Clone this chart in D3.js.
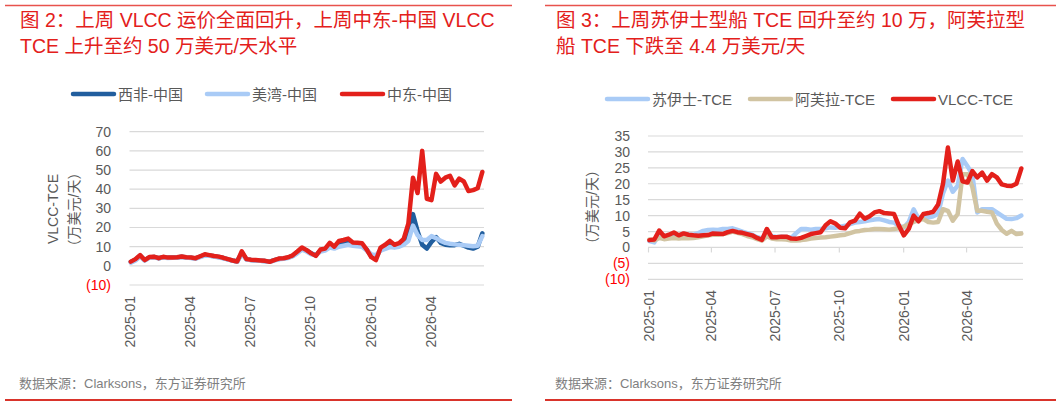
<!DOCTYPE html>
<html><head><meta charset="utf-8">
<script src="https://cdn.jsdelivr.net/npm/d3@7"></script>
<style>
html,body{margin:0;padding:0;background:#fff;}
svg{display:block;}
text{font-family:"Liberation Sans","Noto Sans CJK SC",sans-serif;}
</style></head>
<body>
<svg id="c" width="1061" height="403"></svg>
<script>
// ---------- DATA ----------
const dates = ["2025-01-03","2025-01-10","2025-01-17","2025-01-24","2025-01-31","2025-02-07","2025-02-14","2025-02-21","2025-02-28","2025-03-07","2025-03-14","2025-03-21","2025-03-28","2025-04-04","2025-04-11","2025-04-18","2025-04-25","2025-05-02","2025-05-09","2025-05-16","2025-05-23","2025-05-30","2025-06-06","2025-06-13","2025-06-20","2025-06-27","2025-07-04","2025-07-11","2025-07-18","2025-07-25","2025-08-01","2025-08-08","2025-08-15","2025-08-22","2025-08-29","2025-09-05","2025-09-12","2025-09-19","2025-09-26","2025-10-03","2025-10-10","2025-10-17","2025-10-24","2025-10-31","2025-11-07","2025-11-14","2025-11-21","2025-11-28","2025-12-05","2025-12-12","2025-12-19","2025-12-26","2026-01-02","2026-01-09","2026-01-16","2026-01-23","2026-01-30","2026-02-06","2026-02-13","2026-02-20","2026-02-27","2026-03-06","2026-03-13","2026-03-20","2026-03-27","2026-04-03","2026-04-10","2026-04-17","2026-04-24","2026-05-01","2026-05-08","2026-05-15","2026-05-22","2026-05-29","2026-06-05","2026-06-12","2026-06-19"];

// Chart 1 (万美元/天)
const westAfricaChina = [2.0,3.2,5.3,3.0,4.4,4.6,4.0,4.5,4.2,4.3,4.4,4.7,4.4,4.2,3.9,4.8,5.7,5.4,5.0,4.6,4.1,3.4,2.8,2.3,6.8,3.4,3.1,2.9,2.7,2.5,2.2,3.0,3.6,3.9,4.3,5.2,7.0,9.0,8.0,6.5,5.5,8.0,8.5,10.5,9.5,11.0,11.5,12.0,11.5,11.0,10.8,8.5,5.0,4.5,8.5,9.5,11.0,10.5,11.0,12.0,15.0,27.0,18.0,11.0,9.0,12.5,15.0,12.0,11.0,10.8,10.8,11.5,10.5,9.5,9.0,10.0,17.0];
const usGulfChina = [1.6,2.8,4.8,2.8,4.2,4.4,3.9,4.4,4.1,4.2,4.3,4.6,4.3,4.1,3.8,4.6,5.4,5.2,4.8,4.4,4.0,3.3,2.7,2.2,6.2,3.3,3.0,2.8,2.6,2.4,2.1,2.8,3.4,3.7,4.1,5.0,6.5,8.5,7.5,6.0,5.5,7.5,8.0,9.5,9.0,10.0,10.5,11.0,10.5,10.2,10.0,8.0,6.0,5.5,8.0,8.8,9.8,9.5,10.0,11.0,13.0,21.0,16.0,13.5,13.5,15.5,14.5,13.0,12.0,11.5,11.2,11.0,10.8,10.5,10.2,10.5,15.5];
const meChina = [2.2,3.5,5.6,3.0,4.6,4.8,4.0,4.7,4.3,4.4,4.5,4.9,4.5,4.3,4.0,5.0,6.0,5.6,5.1,4.8,4.2,3.5,2.8,2.3,7.6,3.5,3.2,3.0,2.8,2.6,2.1,3.0,3.8,4.0,4.5,5.5,7.5,9.6,8.2,6.5,5.2,8.5,9.0,12.0,10.0,13.0,13.5,14.2,12.2,12.0,11.8,8.5,4.5,3.0,9.5,11.0,13.0,11.0,11.8,14.0,22.0,46.0,38.0,60.0,35.0,34.3,48.0,44.0,46.0,47.0,42.0,45.5,44.0,39.0,39.5,40.5,49.0];

// Chart 2 (万美元/天)
const suezmaxTce = [2.0,1.6,4.5,3.5,3.8,4.3,3.8,4.2,4.0,4.0,4.5,5.2,5.5,5.6,5.5,5.8,5.8,6.0,5.5,5.0,4.5,4.0,3.2,2.8,4.8,3.5,3.3,3.4,3.3,3.0,4.5,5.8,5.8,5.6,5.8,5.8,6.0,6.3,6.2,6.5,6.8,7.3,7.8,8.0,8.2,8.5,8.8,8.9,8.5,8.0,7.8,6.8,6.3,8.0,12.0,9.0,9.2,9.4,9.8,10.5,17.0,21.0,17.5,19.4,27.8,25.5,23.0,11.0,12.0,12.0,12.0,11.0,10.0,9.0,8.9,9.2,10.0];
const aframaxTce = [2.5,2.2,3.0,2.6,2.8,3.0,2.8,3.0,2.9,3.0,3.2,3.5,3.8,4.0,4.0,4.2,4.5,5.0,4.6,4.2,3.6,3.2,2.6,2.2,3.5,2.8,2.6,2.6,2.5,2.2,2.2,2.3,2.5,2.8,3.0,3.1,3.2,3.4,3.6,3.8,4.0,4.5,5.0,5.2,5.5,5.6,5.8,5.8,5.7,5.6,5.8,6.0,6.5,7.3,8.0,8.6,8.9,8.0,7.8,8.0,12.0,11.5,8.4,10.5,23.0,23.0,19.0,11.5,11.5,11.2,11.0,7.5,5.5,4.3,5.2,4.2,4.4];
const vlccTce = [2.3,2.5,5.3,3.5,4.0,4.7,3.8,4.4,4.0,3.8,3.7,3.8,3.9,4.4,4.3,4.2,4.8,5.2,4.8,4.6,4.2,3.8,3.0,2.4,5.8,3.2,3.2,3.4,3.4,2.8,2.7,3.0,3.6,4.2,4.5,4.8,7.0,8.2,7.5,6.2,6.0,7.9,8.4,10.6,9.0,9.8,11.0,11.4,10.8,10.7,10.5,6.8,3.8,5.8,10.0,8.2,10.5,10.8,11.2,13.5,20.0,31.4,21.0,27.0,20.8,20.4,24.0,22.0,23.5,21.0,23.0,22.0,19.8,19.4,19.3,20.0,24.8];

const xTickLabels = ["2025-01","2025-04","2025-07","2025-10","2026-01","2026-04"];
const yTicks1 = [-10,0,10,20,30,40,50,60,70];
const yTicks2 = [-10,-5,0,5,10,15,20,25,30,35];
const legend1 = ["西非-中国","美湾-中国","中东-中国"];
const legend2 = ["苏伊士-TCE","阿芙拉-TCE","VLCC-TCE"];
const title1 = ["图 2：上周 VLCC 运价全面回升，上周中东-中国 VLCC","TCE 上升至约 50 万美元/天水平"];
const title2 = ["图 3：上周苏伊士型船 TCE 回升至约 10 万，阿芙拉型","船 TCE 下跌至 4.4 万美元/天"];
const source = "数据来源：Clarksons，东方证券研究所";

// ---------- DRAW ----------
const svg = d3.select("#c");
const parse = d3.timeParse("%Y-%m-%d");
const parseM = d3.timeParse("%Y-%m");
const dts = dates.map(parse);
const RED = "#e3201b", GRAY = "#595959", GRID = "#d9d9d9";
const fmt = v => v < 0 ? "(" + Math.abs(v) + ")" : String(v);

function panel(o) {
  const g = svg.append("g");
  g.append("line").attr("x1", o.fx0).attr("x2", o.fx1).attr("y1", 5.5).attr("y2", 5.5)
    .attr("stroke", "#e8524d").attr("stroke-width", 1.3);
  g.append("line").attr("x1", o.fx0).attr("x2", o.fx1).attr("y1", 400).attr("y2", 400)
    .attr("stroke", "#d9342b").attr("stroke-width", 2.2);
  o.title.forEach((t, i) => g.append("text").attr("x", o.tx).attr("y", 27 + i * 25.5)
    .attr("fill", RED).attr("font-size", 19.5).text(t));
  g.append("text").attr("x", o.tx - 1).attr("y", 388).attr("fill", "#7f7f7f")
    .attr("font-size", 13).text(source);

  const x = d3.scaleTime().domain([parse("2025-01-01"), parse("2026-06-20")]).range([o.x0, o.x1]);
  const y = d3.scaleLinear().domain(o.ydom).range([o.yb, o.yt]);

  g.append("g").selectAll("line").data(o.yticks).join("line")
    .attr("x1", o.x0).attr("x2", o.x1 + 1)
    .attr("y1", d => y(d)).attr("y2", d => y(d))
    .attr("stroke", GRID).attr("stroke-width", 1.2);

  const ya = d3.axisLeft(y).tickValues(o.yticks).tickFormat(fmt).tickSize(0).tickPadding(0);
  const yg = g.append("g").attr("transform", `translate(${o.ylx},0)`).call(ya);
  yg.select(".domain").remove();
  yg.selectAll("text").attr("font-size", 14).attr("font-family", "Liberation Sans, sans-serif")
    .attr("fill", d => d < 0 ? "#ff0000" : GRAY);

  if (o.zeroTicks) {
    const xa = d3.axisBottom(x).tickValues(xTickLabels.map(parseM)).tickSize(5).tickFormat("");
    const xg = g.append("g").attr("transform", `translate(0,${y(0)})`).call(xa);
    xg.select(".domain").remove();
    xg.selectAll("line").attr("stroke", GRID).attr("stroke-width", 1.2);
  }
  const xa2 = d3.axisBottom(x).tickValues(xTickLabels.map(parseM)).tickSize(0).tickFormat(d3.timeFormat("%Y-%m"));
  const xg2 = g.append("g").attr("transform", `translate(0,${o.xly})`).call(xa2);
  xg2.select(".domain").remove();
  xg2.selectAll("text").attr("font-size", 14).attr("fill", GRAY)
    .attr("font-family", "Liberation Sans, sans-serif")
    .attr("transform", "rotate(-90)").attr("text-anchor", "end")
    .attr("x", 0).attr("y", 0).attr("dx", 0).attr("dy", "0.36em");

  o.ytitles.forEach(t => g.append("text")
    .attr("transform", `translate(${t.x},${t.y}) rotate(-90)`)
    .attr("text-anchor", "middle").attr("dominant-baseline", "central")
    .attr("font-size", 14).attr("fill", GRAY).text(t.s));

  const line = d3.line().x((d, i) => x(dts[i])).y(d => y(d));
  o.series.forEach(s => g.append("path").datum(s.v).attr("d", line)
    .attr("fill", "none").attr("stroke", s.c).attr("stroke-width", s.w)
    .attr("stroke-linejoin", "round").attr("stroke-linecap", "round"));

  o.series.forEach((s, i) => {
    const lx = o.legX[i];
    g.append("line").attr("x1", lx).attr("x2", lx + 41).attr("y1", o.legY).attr("y2", o.legY)
      .attr("stroke", s.c).attr("stroke-width", 4.5).attr("stroke-linecap", "round");
    g.append("text").attr("x", lx + 45).attr("y", o.legY).attr("dominant-baseline", "central")
      .attr("font-size", 15).attr("fill", GRAY).text(o.legend[i]);
  });
}

panel({
  fx0: 5, fx1: 512, tx: 20, title: title1,
  x0: 129.5, x1: 483, ydom: [-10, 70], yb: 285, yt: 131.7, yticks: yTicks1, ylx: 111,
  xly: 296, zeroTicks: false,
  ytitles: [{x: 53, y: 209, s: "VLCC-TCE"}, {x: 74, y: 209.5, s: "（万美元/天）"}],
  series: [
    {v: westAfricaChina, c: "#215e9e", w: 4.5},
    {v: usGulfChina, c: "#a9cbf6", w: 4.5},
    {v: meChina, c: RED, w: 4.5}
  ],
  legend: legend1, legX: [73, 207, 342], legY: 94
});

panel({
  fx0: 545, fx1: 1056, tx: 556, title: title2,
  x0: 648, x1: 1022, ydom: [-10, 35], yb: 279.3, yt: 136, yticks: yTicks2, ylx: 630,
  xly: 290, zeroTicks: true,
  ytitles: [{x: 592, y: 207, s: "（万美元/天）"}],
  series: [
    {v: suezmaxTce, c: "#a9cbf6", w: 4.5},
    {v: aframaxTce, c: "#d1c4a2", w: 4.5},
    {v: vlccTce, c: RED, w: 4.5}
  ],
  legend: legend2, legX: [607, 750, 893], legY: 99
});
</script>
</body></html>
